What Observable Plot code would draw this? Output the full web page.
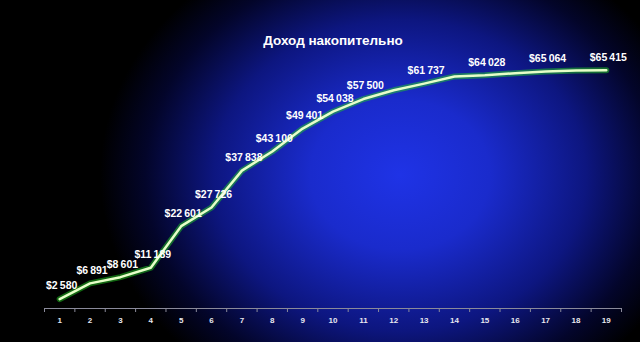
<!DOCTYPE html>
<html>
<head>
<meta charset="utf-8">
<script src="https://cdn.jsdelivr.net/npm/d3@7"></script>
<script src="https://cdn.jsdelivr.net/npm/@observablehq/plot@0.6"></script>
<style>
  html, body { margin: 0; padding: 0; background: #000; }
  #chart { width: 640px; height: 342px; }
</style>
</head>
<body>
<div id="chart"></div>
<script>
const title = "Доход накопительно";
const periods = [1,2,3,4,5,6,7,8,9,10,11,12,13,14,15,16,17,18,19];
const income = [2580,6891,8601,11189,22601,27726,37838,43100,49401,54038,57500,59900,61737,63700,64028,64600,65064,65300,65415];
const labeled = [1,2,3,4,5,6,7,8,9,10,11,13,15,17,19];

const data = periods.map((p, i) => ({p, v: income[i]}));
const labelData = data.filter(d => labeled.includes(d.p));
const bounds = [periods[0] - 0.5, ...periods.map(p => p + 0.5)];
const fmt = v => "$" + d3.format(",")(v).replace(/,/g, "\u202F");

const font = "'Liberation Sans', Arial, sans-serif";

const plot = Plot.plot({
  width: 640,
  height: 342,
  marginLeft: 44,
  marginRight: 19,
  marginTop: 53,
  marginBottom: 34,
  style: {
    background: "radial-gradient(ellipse 300px 250px at 400px 175px, #1f33e6 0%, #1a2bcc 30%, #0d1680 62%, #03052a 85%, #000 100%)",
    fontFamily: font,
    color: "#fff"
  },
  x: {domain: [bounds[0], bounds[bounds.length - 1]], axis: null, label: null},
  y: {domain: [0, 70000], axis: null, label: null},
  marks: [
    Plot.ruleY([0], {stroke: "#8a8a9a", strokeWidth: 1}),
    Plot.axisX(bounds, {tickSize: 4, tickFormat: () => "", stroke: "#8a8a9a", anchor: "bottom", label: null}),
    Plot.axisX(periods, {tickSize: 0, tickPadding: 9, fontSize: 8, fontWeight: "bold", fill: "#e8e8f0", anchor: "bottom", label: null}),
    Plot.line(data, {x: "p", y: "v", stroke: "#22cc22", strokeWidth: 6, strokeOpacity: 0.5, strokeLinejoin: "round"}),
    Plot.line(data, {x: "p", y: "v", stroke: "#e6ffc8", strokeWidth: 2.5, strokeLinejoin: "round"}),
    Plot.text(labelData, {x: "p", y: "v", text: d => fmt(d.v), dy: -13, dx: 2, fill: "#fff", fontSize: 10.5, fontWeight: "bold", style: "letter-spacing:-0.3px"}),
    Plot.text([title], {frameAnchor: "top", dy: -18, fill: "#fff", fontSize: 13.5, fontWeight: "bold"})
  ]
});
document.getElementById("chart").appendChild(plot);
</script>
</body>
</html>
